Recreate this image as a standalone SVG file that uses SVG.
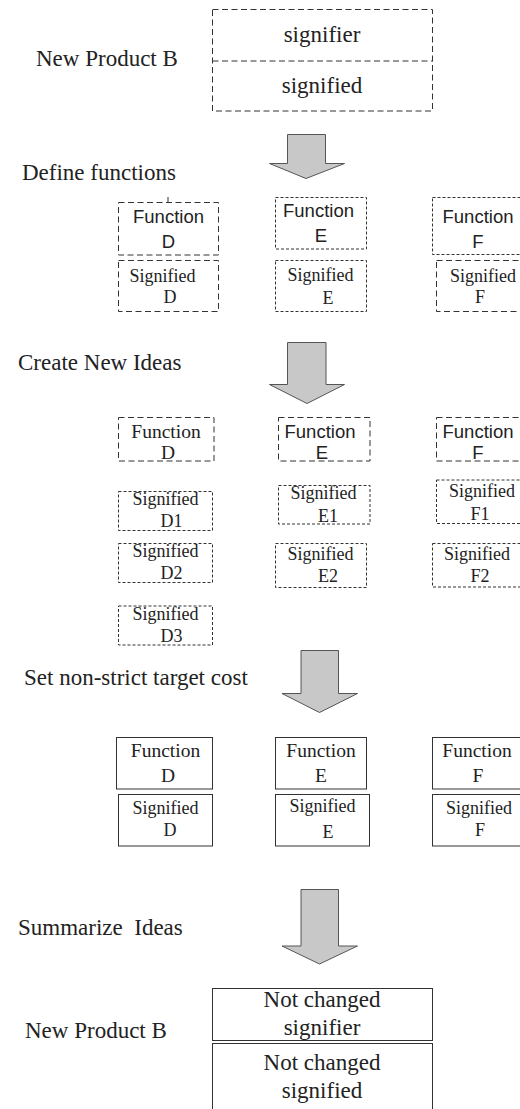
<svg xmlns="http://www.w3.org/2000/svg" width="520" height="1109" viewBox="0 0 520 1109">
  <style>
    .bg { fill: #ffffff; }
    .box { fill: none; stroke: #333333; stroke-width: 1; }
    .long { stroke-dasharray: 6 3.5; }
    .short { stroke-dasharray: 3 2; }
    .label { font-family: "Liberation Serif", "Times New Roman", serif; font-size: 23px; fill: #222222; white-space: pre; }
    .serif { font-family: "Liberation Serif", "Times New Roman", serif; font-size: 18px; fill: #222222; text-anchor: middle; }
    .serif-fn { font-family: "Liberation Serif", "Times New Roman", serif; font-size: 19.5px; fill: #222222; text-anchor: middle; }
    .sans { font-family: "Liberation Sans", Arial, sans-serif; font-size: 18.5px; fill: #222222; text-anchor: middle; }
    .big { font-family: "Liberation Serif", "Times New Roman", serif; font-size: 23px; fill: #222222; text-anchor: middle; }
    .arrow { fill: #c8c8c8; stroke: #555555; stroke-width: 1; stroke-linejoin: miter; }
  </style>
  <rect class="bg" x="0" y="0" width="520" height="1109"/>

  <!-- step labels -->
  <g id="labels">
    <text class="label" x="36" y="66">New Product B</text>
    <text class="label" x="22" y="180">Define functions</text>
    <text class="label" x="18" y="370">Create New Ideas</text>
    <text class="label" x="24" y="685">Set non-strict target cost</text>
    <text class="label" x="18" y="935" xml:space="preserve">Summarize  Ideas</text>
    <text class="label" x="25" y="1038">New Product B</text>
  </g>

  <!-- block arrows between stages -->
  <g id="connectors">
    <polygon class="arrow" points="287.5,134.5 325.5,134.5 325.5,163.5 344.5,163.5 306,178.5 269.5,163.5 287.5,163.5"/>
    <polygon class="arrow" points="287.5,342.5 326,342.5 326,384.5 344.5,384.5 307,403.5 269.5,384.5 287.5,384.5"/>
    <polygon class="arrow" points="301,650.5 338.5,650.5 338.5,693.5 357.5,693.5 319.5,712.5 282,693.5 301,693.5"/>
    <polygon class="arrow" points="301,889.5 338.5,889.5 338.5,946 357.5,946 319.5,964 282,946 301,946"/>
  </g>

  <!-- initial product -->
  <g id="productTop">
    <rect class="box long" x="212.5" y="9.5" width="220" height="101.5"/>
    <line class="box long" x1="212.5" y1="61" x2="432.5" y2="61"/>
    <text class="big" x="322" y="42">signifier</text>
    <text class="big" x="322" y="93">signified</text>
  </g>

  <!-- stage 1: defined functions -->
  <g id="fnD1">
    <rect class="box long" x="118.5" y="202.5" width="100" height="52.5"/>
    <line class="box" x1="168" y1="197" x2="168" y2="202.5"/>
    <text class="sans" x="168.5" y="223">Function</text>
    <text class="sans" x="168.5" y="248">D</text>
  </g>
  <g id="sgD1">
    <rect class="box long" x="118.5" y="260.5" width="100" height="51"/>
    <text class="serif" x="162.5" y="281.5">Signified</text>
    <text class="serif" x="170" y="303">D</text>
  </g>
  <g id="fnE1">
    <rect class="box short" x="275.5" y="197.5" width="91" height="51.5"/>
    <text class="sans" x="318.5" y="217">Function</text>
    <text class="sans" x="321" y="242">E</text>
  </g>
  <g id="sgE1">
    <rect class="box short" x="275.5" y="260.5" width="91" height="51"/>
    <text class="serif" x="320.5" y="280.5">Signified</text>
    <text class="serif" x="328" y="304">E</text>
  </g>
  <g id="fnF1">
    <rect class="box short" x="432.5" y="197.5" width="100" height="57"/>
    <text class="sans" x="478" y="223">Function</text>
    <text class="sans" x="478" y="248">F</text>
  </g>
  <g id="sgF1">
    <rect class="box long" x="436.5" y="260.5" width="100" height="51"/>
    <text class="serif" x="483" y="281.5">Signified</text>
    <text class="serif" x="480" y="303">F</text>
  </g>

  <!-- stage 2: new ideas -->
  <g id="fnD2">
    <rect class="box long" x="118.5" y="417.5" width="95.5" height="43.5"/>
    <text class="serif-fn" x="166" y="438">Function</text>
    <text class="serif-fn" x="168" y="459">D</text>
  </g>
  <g id="fnE2">
    <rect class="box long" x="278.5" y="417.5" width="91.5" height="43.5"/>
    <text class="sans" x="320" y="438">Function</text>
    <text class="sans" x="322" y="459">E</text>
  </g>
  <g id="fnF2">
    <rect class="box long" x="436.5" y="417.5" width="100" height="43.5"/>
    <text class="sans" x="478" y="438">Function</text>
    <text class="sans" x="478" y="459">F</text>
  </g>
  <g id="sgD1idea">
    <rect class="box short" x="118.5" y="491.5" width="94" height="39"/>
    <text class="serif" x="165.5" y="505">Signified</text>
    <text class="serif" x="171.5" y="527">D1</text>
  </g>
  <g id="sgD2idea">
    <rect class="box short" x="118.5" y="543.5" width="94" height="39"/>
    <text class="serif" x="165.5" y="557">Signified</text>
    <text class="serif" x="171.5" y="579">D2</text>
  </g>
  <g id="sgD3idea">
    <rect class="box short" x="118.5" y="606" width="94" height="39"/>
    <text class="serif" x="165.5" y="620">Signified</text>
    <text class="serif" x="171.5" y="641.5">D3</text>
  </g>
  <g id="sgE1idea">
    <rect class="box short" x="278.5" y="485.5" width="91.5" height="38.5"/>
    <text class="serif" x="323.5" y="499">Signified</text>
    <text class="serif" x="328" y="522">E1</text>
  </g>
  <g id="sgE2idea">
    <rect class="box short" x="275.5" y="543.5" width="91" height="44"/>
    <text class="serif" x="320.5" y="560">Signified</text>
    <text class="serif" x="328" y="581.5">E2</text>
  </g>
  <g id="sgF1idea">
    <rect class="box short" x="436.5" y="480" width="100" height="43.5"/>
    <text class="serif" x="482" y="496.5">Signified</text>
    <text class="serif" x="480" y="520">F1</text>
  </g>
  <g id="sgF2idea">
    <rect class="box short" x="432.5" y="543.5" width="100" height="43.5"/>
    <text class="serif" x="477" y="560">Signified</text>
    <text class="serif" x="480" y="581.5">F2</text>
  </g>

  <!-- stage 3: target cost -->
  <g id="fnD3">
    <rect class="box" x="116.5" y="737.5" width="96" height="51.5"/>
    <text class="serif-fn" x="165.5" y="756.5">Function</text>
    <text class="serif-fn" x="168" y="781.5">D</text>
  </g>
  <g id="sgD3">
    <rect class="box" x="118.5" y="794.5" width="94" height="51.5"/>
    <text class="serif" x="165.5" y="814">Signified</text>
    <text class="serif" x="170" y="836">D</text>
  </g>
  <g id="fnE3">
    <rect class="box" x="275.5" y="737.5" width="91" height="51.5"/>
    <text class="serif-fn" x="321" y="756.5">Function</text>
    <text class="serif-fn" x="321" y="781.5">E</text>
  </g>
  <g id="sgE3">
    <rect class="box" x="275.5" y="794.5" width="94" height="51.5"/>
    <text class="serif" x="322.5" y="811.5">Signified</text>
    <text class="serif" x="328" y="838">E</text>
  </g>
  <g id="fnF3">
    <rect class="box" x="432.5" y="737.5" width="100" height="51.5"/>
    <text class="serif-fn" x="477" y="756.5">Function</text>
    <text class="serif-fn" x="478" y="781.5">F</text>
  </g>
  <g id="sgF3">
    <rect class="box" x="432.5" y="794.5" width="100" height="51.5"/>
    <text class="serif" x="479" y="814">Signified</text>
    <text class="serif" x="480" y="836">F</text>
  </g>

  <!-- resulting product -->
  <g id="productBottomSignifier">
    <rect class="box" x="212.5" y="988.5" width="220" height="52"/>
    <text class="big" x="322" y="1006.5">Not changed</text>
    <text class="big" x="322" y="1035">signifier</text>
  </g>
  <g id="productBottomSignified">
    <rect class="box" x="212.5" y="1043.5" width="220" height="70"/>
    <text class="big" x="322" y="1070">Not changed</text>
    <text class="big" x="322" y="1098">signified</text>
  </g>
</svg>
